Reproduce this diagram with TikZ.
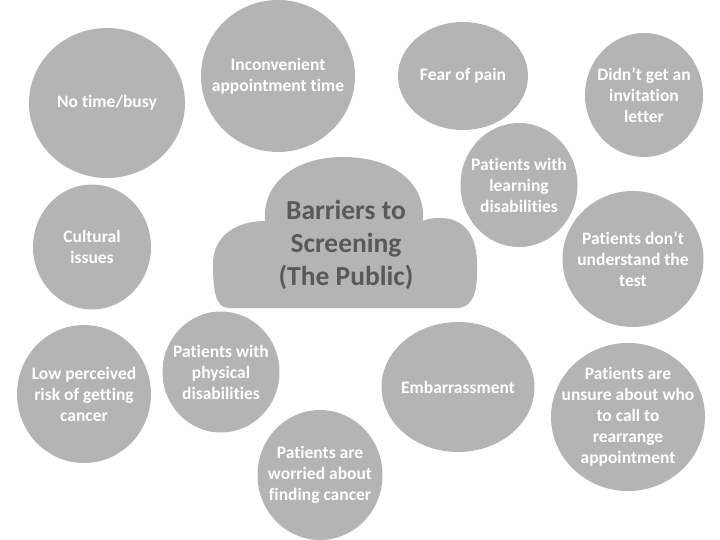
\documentclass[tikz,border=0pt]{standalone}
\usepackage{fontspec}
\setmainfont{Carlito}[Ligatures={NoCommon,NoContextual}]
\usetikzlibrary{shapes.geometric}
\definecolor{blobgray}{RGB}{180,180,180}
\definecolor{titlegray}{RGB}{89,89,89}

\begin{document}
\begin{tikzpicture}[x=1pt,y=-1pt,
		every node/.style={font=\bfseries\fontsize{17.5}{21}\selectfont},
		blob/.style={ellipse,fill=blobgray,text=white,align=center,inner sep=-40pt},
		title/.style={text=titlegray,align=center,font=\bfseries\fontsize{27.5}{33}\selectfont},
		]
		\useasboundingbox (0,0) rectangle (720,540);
		
		% Cloud
		\fill[blobgray] (228,308) -- (458,308)
		.. controls (474,307) and (478,290) .. (477,262)
		.. controls (476,232) and (462,218) .. (440,218)
		.. controls (432,218) and (426,219) .. (423,221)
		.. controls (426,182) and (392,157) .. (343,157)
		.. controls (294,157) and (262,184) .. (265,221)
		.. controls (236,221) and (213,236) .. (213,264)
		.. controls (213,292) and (216,307) .. (228,308) -- cycle;
		\node[title] (barriers) at (346,245) {Barriers to\\Screening\\(The Public)};
		
		% Blobs
		\node[blob,minimum width=156pt,minimum height=150pt] (busy) at (107,103) {No time/busy};
		\node[blob,minimum width=154pt,minimum height=152pt] (appt) at (278,76) {Inconvenient\\appointment time};
		\node[blob,minimum width=130pt,minimum height=108pt] (pain) at (463,76) {Fear of pain};
		\node[blob,minimum width=118pt,minimum height=124pt] (letter) at (644,95) {Didn’t get an\\invitation\\letter};
		\node[blob,minimum width=117pt,minimum height=124pt] (learning) at (519,185) {Patients with\\learning\\disabilities};
		\node[blob,minimum width=141pt,minimum height=136pt] (test) at (633,259) {Patients don’t\\understand the\\test};
		\node[blob,minimum width=118pt,minimum height=125pt] (culture) at (92,247) {Cultural\\issues};
		\node[blob,minimum width=134pt,minimum height=138pt] (risk) at (84,394) {Low perceived\\risk of getting\\cancer};
		\node[blob,minimum width=117pt,minimum height=121pt] (physical) at (221,372) {Patients with\\physical\\disabilities};
		\node[blob,minimum width=125pt,minimum height=130pt] (worried) at (320,475) {Patients are\\worried about\\finding cancer};
		\node[blob,minimum width=153pt,minimum height=130pt] (embarrass) at (458,387) {Embarrassment};
		\node[blob,minimum width=154pt,minimum height=148pt] (unsure) at (628,417) {Patients are\\unsure about who\\to call to\\rearrange\\appointment};
		
	\end{tikzpicture}
\end{document}
